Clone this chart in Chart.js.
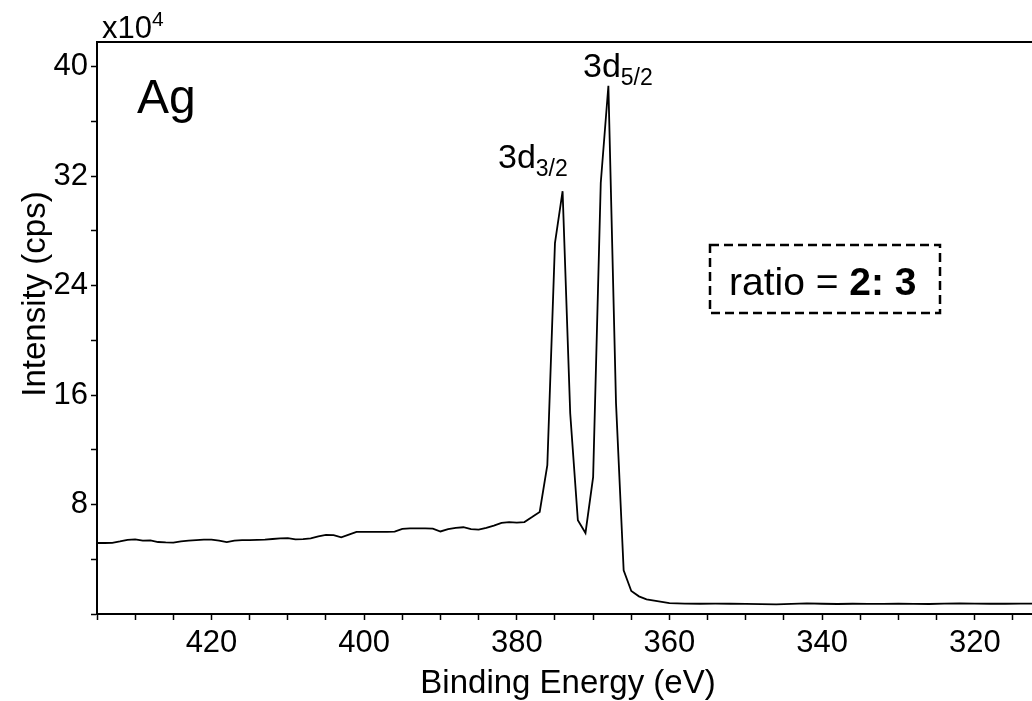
<!DOCTYPE html>
<html>
<head>
<meta charset="utf-8">
<script src="https://cdn.jsdelivr.net/npm/chart.js@4.4.0/dist/chart.umd.min.js"></script>
<style>
html, body { margin: 0; padding: 0; background: #fff; }
#wrap { width: 1032px; height: 701px; }
</style>
</head>
<body>
<div id="wrap"><canvas id="xps" width="1032" height="701"></canvas></div>
<script>
// Ag 3d XPS spectrum, binding energy in eV
var energy = [435,434,433,432,431,430,429,428,427,426,425,424,423,422,421,420,
  419,418,417,416,415,414,413,412,411,410,409,408,407,406,405,404,403,402,401,400,
  399,398,397,396,395,394,393,392,391,390,389,388,387,386,385,384,383,382,381,380,
  379,378,377,376,375,374,373,372,371,370,369,368,367,366,365,364,363,362,361,360,
  358,356,354,352,350,348,346,344,342,340,338,336,334,332,330,328,326,324,322,320,
  318,316,314,312];
// intensity in units of 10^4 cps
var counts = [5.19,5.19,5.20,5.30,5.42,5.46,5.36,5.38,5.26,5.23,5.22,5.30,5.36,5.40,5.44,5.44,
  5.36,5.25,5.36,5.40,5.40,5.42,5.44,5.48,5.52,5.54,5.46,5.47,5.52,5.68,5.78,5.76,5.60,5.80,6.00,6.00,
  6.00,6.00,6.00,6.02,6.22,6.25,6.25,6.25,6.24,6.03,6.20,6.30,6.34,6.20,6.17,6.30,6.46,6.66,6.71,6.68,
  6.72,7.08,7.46,10.87,27.1,30.9,14.65,6.85,5.92,10.0,31.5,38.6,15.4,3.2,1.68,1.29,1.07,0.97,0.88,0.80,
  0.76,0.75,0.76,0.75,0.74,0.72,0.70,0.74,0.77,0.75,0.73,0.75,0.74,0.74,0.75,0.74,0.73,0.76,0.78,0.76,
  0.75,0.75,0.76,0.76];

var xTicks = [435,430,425,420,415,410,405,400,395,390,385,380,375,370,365,360,355,350,345,340,335,330,325,320,315];
var xLabels = [420,400,380,360,340,320];
var yTicks = [0,4,8,12,16,20,24,28,32,36,40];
var yLabels = [8,16,24,32,40];

var fam = '"Liberation Sans", Arial, Helvetica, sans-serif';
Chart.defaults.font.family = fam;
Chart.defaults.color = '#000';

var pts = [];
for (var i = 0; i < energy.length; i++) {
  pts.push({x: energy[i], y: counts[i]});
}

// text with a raised or lowered small part
function subText(ctx, x, y, main, small, size, smallSize, shift) {
  ctx.font = size + 'px ' + fam;
  ctx.fillText(main, x, y);
  var w = ctx.measureText(main).width;
  ctx.font = smallSize + 'px ' + fam;
  ctx.fillText(small, x + w, y + shift);
}

var extras = {
  id: 'extras',
  afterDraw: function(chart) {
    var ctx = chart.ctx;
    var a = chart.chartArea;
    ctx.save();
    // top frame line
    ctx.strokeStyle = '#000';
    ctx.lineWidth = 2;
    ctx.beginPath();
    ctx.moveTo(a.left - 1, a.top);
    ctx.lineTo(chart.width, a.top);
    ctx.stroke();

    ctx.fillStyle = '#000';
    ctx.textBaseline = 'alphabetic';
    ctx.textAlign = 'left';
    subText(ctx, 102, 38, 'x10', '4', 31, 21, -12);

    ctx.font = '48px ' + fam;
    ctx.fillText('Ag', 137, 113);

    subText(ctx, 583, 77, '3d', '5/2', 34, 23, 8);
    subText(ctx, 498, 168, '3d', '3/2', 34, 23, 8);

    // ratio box
    ctx.setLineDash([9, 5]);
    ctx.lineWidth = 2.5;
    ctx.strokeRect(710, 245, 230, 68);
    ctx.setLineDash([]);
    ctx.font = '39px ' + fam;
    ctx.fillText('ratio = ', 729, 295);
    var w = ctx.measureText('ratio = ').width;
    ctx.font = 'bold 39px ' + fam;
    ctx.fillText('2: 3', 729 + w, 295);

    // axis titles
    ctx.font = '33px ' + fam;
    ctx.textAlign = 'center';
    ctx.textBaseline = 'middle';
    ctx.fillText('Binding Energy (eV)', 568, 684);
    ctx.translate(36, 294);
    ctx.rotate(-Math.PI / 2);
    ctx.fillText('Intensity (cps)', 0, 0);
    ctx.restore();
  }
};

var ctx = document.getElementById('xps').getContext('2d');
var chart = new Chart(ctx, {
  type: 'line',
  data: {
    datasets: [{
      data: pts,
      borderColor: '#000',
      borderWidth: 1.8,
      pointRadius: 0,
      tension: 0,
      fill: false
    }]
  },
  options: {
    responsive: false,
    animation: false,
    devicePixelRatio: 1,
    layout: { padding: { top: 42, left: 0, right: 0, bottom: 0 } },
    plugins: { legend: { display: false }, tooltip: { enabled: false } },
    scales: {
      x: {
        type: 'linear',
        reverse: true,
        min: 312.5,
        max: 435,
        afterBuildTicks: function(s) { s.ticks = xTicks.map(function(v) { return {value: v}; }); },
        afterFit: function(s) { s.height = 87; },
        ticks: {
          autoSkip: false,
          maxRotation: 0,
          padding: 5,
          font: { size: 31 },
          callback: function(v) { return xLabels.indexOf(v) >= 0 ? String(v) : ''; }
        },
        grid: { drawOnChartArea: false, tickLength: 6, tickColor: '#000', tickWidth: 1.5 },
        border: { display: true, color: '#000', width: 2 }
      },
      y: {
        min: 0,
        max: 41.8,
        afterBuildTicks: function(s) { s.ticks = yTicks.map(function(v) { return {value: v}; }); },
        afterFit: function(s) { s.width = 97; },
        ticks: {
          autoSkip: false,
          padding: 3,
          font: { size: 31 },
          callback: function(v) { return yLabels.indexOf(v) >= 0 ? String(v) : ''; }
        },
        grid: { drawOnChartArea: false, tickLength: 6, tickColor: '#000', tickWidth: 1.5 },
        border: { display: true, color: '#000', width: 2 }
      }
    }
  },
  plugins: [extras]
});
</script>
</body>
</html>
